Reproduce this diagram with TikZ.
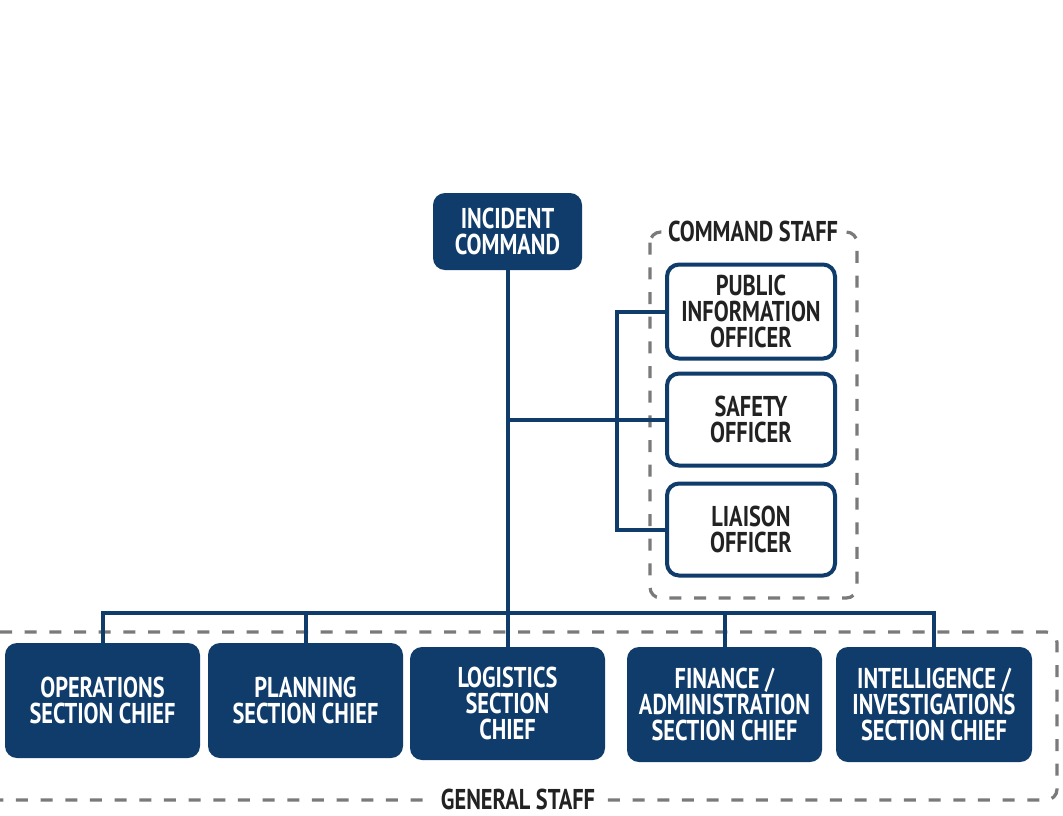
\documentclass[tikz,border=0pt]{standalone}
\usepackage{fontspec}
\setmainfont{PT Sans}[FakeStretch=0.78]
\usetikzlibrary{calc}
\definecolor{navy}{HTML}{0F3C6B}
\definecolor{dashgray}{HTML}{7A7A7A}
\definecolor{darktext}{HTML}{222222}
\tikzset{
  boxfont/.style={font=\fontsize{21.5}{19.5}\selectfont\bfseries},
  gbox/.style={fill=navy, draw=none, rounded corners=9pt, text=white, align=center,
    inner sep=0pt, outer sep=0pt, boxfont},
  cbox/.style={fill=white, draw=navy, line width=3pt, rounded corners=9pt, text=darktext, align=center,
    inner sep=0pt, outer sep=0pt, boxfont},
  link/.style={draw=navy, line width=3pt},
  staffline/.style={draw=dashgray, line width=2.4pt, dash pattern=on 9pt off 9.5pt, rounded corners=8pt},
  stafflabel/.style={fill=white, text=darktext, inner xsep=3pt, inner ysep=0pt, boxfont}
}
\begin{document}
\begin{tikzpicture}[x=0.75pt,y=-0.75pt]
\useasboundingbox[fill=white] (0,0) rectangle (1063,815);

% staff groups
\path[staffline] (650,232) rectangle (857,598);
\node[stafflabel] (cslabel) at (753,231) {COMMAND STAFF};
\path[staffline] (0,632) -- (1057,632) -- (1057,800) -- (0,800);
\node[stafflabel, inner xsep=8pt] (gslabel) at (518,799) {GENERAL STAFF};

% command
\node[gbox, minimum width=111.75pt, minimum height=57.75pt] (ic) at (507.5,231.5) {INCIDENT\\COMMAND};

% command staff
\node[cbox, minimum width=126pt, minimum height=70.5pt] (pio) at (751,311.5) {PUBLIC\\INFORMATION\\OFFICER};
\node[cbox, minimum width=126pt, minimum height=69pt] (saf) at (751,419.5) {SAFETY\\OFFICER};
\node[cbox, minimum width=126pt, minimum height=69pt] (lia) at (751,529.5) {LIAISON\\OFFICER};

% general staff
\node[gbox, minimum width=146.25pt, minimum height=86.25pt] (ops) at (102.5,700.5) {OPERATIONS\\SECTION CHIEF};
\node[gbox, minimum width=146.25pt, minimum height=86.25pt] (plan) at (305.5,700.5) {PLANNING\\SECTION CHIEF};
\node[gbox, minimum width=146.25pt, minimum height=84.75pt] (log) at (507.5,703.5) {LOGISTICS\\SECTION\\CHIEF};
\node[gbox, minimum width=146.25pt, minimum height=86.25pt] (fin) at (724.5,704.5) {FINANCE /\\ADMINISTRATION\\SECTION CHIEF};
\node[gbox, minimum width=147pt, minimum height=86.25pt] (intel) at (934,704.5) {INTELLIGENCE /\\INVESTIGATIONS\\SECTION CHIEF};

% connectors
\coordinate (bus) at (0,613);
\coordinate (bx) at (617,0);
\draw[link] (ic.south) -- (log.north);
\draw[link] (ic.south |- saf.west) -- (saf.west);
\draw[link] (pio.west) -- (pio.west -| bx) -- (lia.west -| bx) -- (lia.west);
\draw[link] (ops.north) -- (ops.north |- bus) -- (intel.north |- bus) -- (intel.north);
\draw[link] (plan.north) -- (plan.north |- bus);
\draw[link] (fin.north) -- (fin.north |- bus);
\end{tikzpicture}
\end{document}
